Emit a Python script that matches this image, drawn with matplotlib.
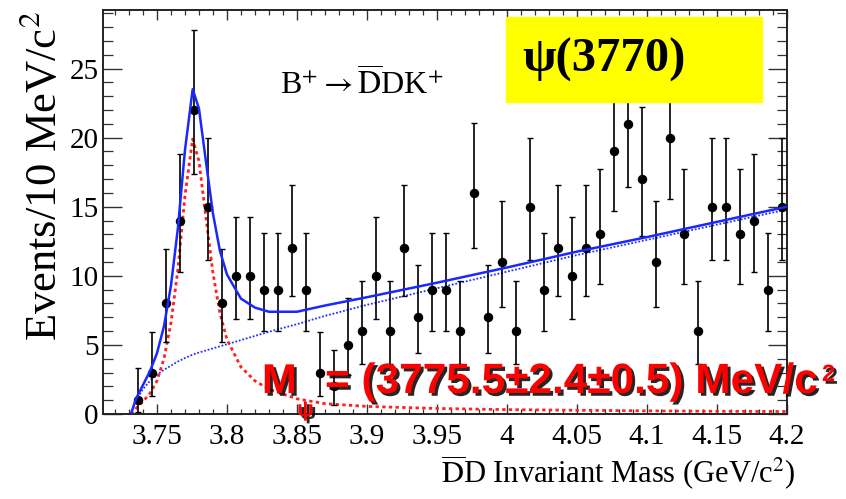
import numpy as np
import matplotlib
matplotlib.use("Agg")
import matplotlib.pyplot as plt
import matplotlib.patheffects as pe
from matplotlib.ticker import MultipleLocator, FixedLocator

plt.rcParams['font.family'] = ['Liberation Serif', 'DejaVu Serif']
plt.rcParams['mathtext.fontset'] = 'stix'

# 10 MeV bins starting at 3.7314 GeV
bin_start = 3.7314
bin_width = 0.01
counts = [1, 3, 8, 14, 22, 15, 8, 10, 10, 9, 9, 12, 9, 3, 2, 5, 6, 10, 6, 12,
          7, 9, 9, 6, 16, 7, 11, 6, 15, 9, 12, 10, 12, 13, 19, 21, 17, 11, 20, 13,
          6, 15, 15, 13, 14, 9, 15]
err_lo = [0.87, 1.66, 2.78, 3.71, 4.66, 3.84, 2.78, 3.12, 3.12, 2.96, 2.96, 3.43, 2.96,
          1.66, 1.32, 2.18, 2.40, 3.12, 2.40, 3.43, 2.60, 2.96, 2.96, 2.40, 3.97, 2.60,
          3.28, 2.40, 3.84, 2.96, 3.43, 3.12, 3.43, 3.57, 4.33, 4.56, 4.09, 3.28, 4.44,
          3.57, 2.40, 3.84, 3.84, 3.57, 3.71, 2.96, 3.84]
err_hi = [2.32, 2.94, 3.96, 4.84, 5.77, 4.97, 3.96, 4.28, 4.28, 4.12, 4.12, 4.57, 4.12,
          2.94, 2.66, 3.40, 3.60, 4.28, 3.60, 4.57, 3.78, 4.12, 4.12, 3.60, 5.09, 3.78,
          4.43, 3.60, 4.97, 4.12, 4.57, 4.28, 4.57, 4.71, 5.44, 5.66, 5.21, 4.43, 5.56,
          4.71, 3.60, 4.97, 4.97, 4.71, 4.84, 4.12, 4.97]

# fit curves
curve_x = [3.7314, 3.735, 3.74, 3.745, 3.75, 3.755, 3.76, 3.765, 3.77, 3.7755, 3.78,
           3.785, 3.79, 3.795, 3.80, 3.81, 3.82, 3.83, 3.85, 3.87, 3.90, 3.95, 4.00,
           4.05, 4.10, 4.15, 4.20]
signal = [0, 0.4, 0.9, 1.5, 2.4, 4.0, 6.6, 10.5, 15.8, 19.9, 18.3, 14.2, 10.2, 7.3,
          5.4, 3.4, 2.4, 1.8, 1.1, 0.75, 0.55, 0.4, 0.32, 0.27, 0.23, 0.2, 0.18]
background = [0, 1.0, 1.8, 2.4, 2.85, 3.2, 3.5, 3.8, 4.05, 4.3, 4.45, 4.6, 4.75, 4.9,
              5.05, 5.35, 5.65, 5.95, 6.5, 7.1, 7.9, 9.1, 10.3, 11.5, 12.6, 13.7, 14.8]
total = [0, 1.1, 2.1, 3.1, 4.4, 6.35, 9.3, 13.5, 19.1, 23.5, 22.1, 18.25, 14.5, 11.8,
         10.1, 8.35, 7.7, 7.4, 7.4, 7.85, 8.45, 9.5, 10.6, 11.75, 12.8, 13.9, 15.0]

mass = bin_start + bin_width * (np.arange(len(counts)) + 0.5)

fig = plt.figure(figsize=(8.46, 4.99), dpi=100)
ax = fig.add_axes([0.1217, 0.1703, 0.8083, 0.8087])

ax.errorbar(mass, counts, yerr=[err_lo, err_hi], fmt='o', color='black',
            markersize=5.8, elinewidth=1.2, capsize=2.2, capthick=1.0, zorder=3)
ax.plot(curve_x, background, color='#2030ff', lw=1.3, ls=(0, (1, 1)), zorder=2)
ax.plot(curve_x, signal, color='#ff2020', lw=2.0, ls=(0, (1.2, 1.2)), zorder=2)
ax.plot(curve_x, total, color='#1a28ff', lw=1.8, zorder=4)

ax.set_xlim(3.7114, 4.2)
ax.set_ylim(0, 29.2)
ax.xaxis.set_major_locator(FixedLocator([3.75, 3.8, 3.85, 3.9, 3.95, 4.0, 4.05, 4.1, 4.15, 4.2]))
ax.xaxis.set_minor_locator(MultipleLocator(0.01))
ax.yaxis.set_major_locator(MultipleLocator(5))
ax.yaxis.set_minor_locator(MultipleLocator(1))
ax.set_xticklabels(['3.75', '3.8', '3.85', '3.9', '3.95', '4', '4.05', '4.1', '4.15', '4.2'])

ax.tick_params(axis='both', which='both', direction='in', top=True, right=True,
               color='#333333', labelsize=21)
ax.tick_params(axis='x', which='major', length=7.5, width=1.0, pad=7)
ax.tick_params(axis='x', which='minor', length=3.8, width=0.9)
ax.tick_params(axis='y', which='major', length=14, width=1.0, pad=3)
ax.tick_params(axis='y', which='minor', length=7, width=0.9)
for s in ax.spines.values():
    s.set_linewidth(1.4)
    s.set_color('#222222')

ax.set_xlabel(r'$\overline{\rm D}$D Invariant Mass (GeV/c$^2$)', fontsize=22,
              labelpad=6)
ax.xaxis.set_label_coords(1.012, -0.1, transform=ax.transAxes)
ax.xaxis.label.set_horizontalalignment('right')
ax.xaxis.label.set_verticalalignment('top')
ax.set_ylabel('Events/10 MeV/c$^2$', fontsize=32, loc='top', labelpad=3)

ax.text(0.379, 0.815, r'B$^{+}\rightarrow\overline{\rm D}$DK$^{+}$', transform=ax.transAxes,
        fontsize=23, ha='center', va='center')

# yellow label box
fig.patches.append(plt.Rectangle((506 / 846, 1 - 102 / 499), 256 / 846, 85 / 499,
                                 transform=fig.transFigure, color='#ffff00', zorder=5))
fig.text(604 / 846, 1 - 60 / 499, 'ψ(3770)', fontsize=35, fontweight='bold',
         ha='center', va='center', zorder=6)

# red mass result with shadow
shadow = [pe.withSimplePatchShadow(offset=(2, -2), shadow_rgbFace='black', alpha=0.85)]
red_kw = dict(color='#ff0000', fontweight='bold', family=['Liberation Sans', 'DejaVu Sans'],
              zorder=7, path_effects=shadow, va='baseline')
fig.text(262 / 846, 1 - 393 / 499, 'M', fontsize=30, **red_kw)
fig.text(297 / 846, 1 - 416 / 499, 'ψ', fontsize=16, **red_kw)
fig.text(325 / 846, 1 - 393 / 499, '= (3775.5±2.4±0.5) MeV/c', fontsize=30.5, **red_kw)
fig.text(822 / 846, 1 - 381 / 499, '2', fontsize=17, **red_kw)

fig.savefig('out.png', dpi=100)
plt.close(fig)
